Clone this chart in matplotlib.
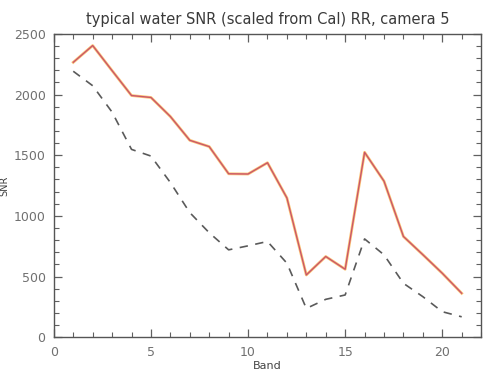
import numpy as np
import matplotlib.pyplot as plt
from matplotlib.ticker import MultipleLocator

# SNR per band, camera 5 (reduced resolution)
bands = np.arange(1, 22)
snr_scaled = [2266, 2404, 2197, 1992, 1976, 1819, 1623, 1571, 1347, 1345,
              1438, 1148, 513, 665, 560, 1524, 1286, 830, 680, 527, 362]
snr_ref = [2192, 2073, 1855, 1548, 1493, 1275, 1027, 861, 720, 753,
           789, 610, 237, 312, 348, 810, 679, 444, 334, 210, 168]

fig = plt.figure(figsize=(4.85, 3.81), dpi=100)
ax = fig.add_axes([0.111, 0.115, 0.881, 0.796])

# solid curve drawn in layers, like several overlapping traces
ax.plot(bands, snr_scaled, color='#f7b040', lw=2.0, alpha=0.75)
ax.plot(bands, snr_scaled, color='#dc3c78', lw=1.0, alpha=0.75)
ax.plot(bands, snr_scaled, color='#6a4a4a', lw=0.5, alpha=0.35)
ax.plot(bands, snr_ref, color='#5a5a5a', lw=1.2, dashes=(5, 4.5))

ax.set_xlim(0, 22)
ax.set_ylim(0, 2500)
ax.xaxis.set_major_locator(MultipleLocator(5))
ax.xaxis.set_minor_locator(MultipleLocator(1))
ax.yaxis.set_major_locator(MultipleLocator(500))
ax.yaxis.set_minor_locator(MultipleLocator(100))
ax.tick_params(which='both', direction='in', top=True, right=True,
               colors='#606060', labelcolor='#707070', labelsize=9, pad=6)
ax.tick_params(which='major', length=6, width=0.9)
ax.tick_params(which='minor', length=3.5, width=0.8)
for s in ax.spines.values():
    s.set_color('#555555')
    s.set_linewidth(1.0)

ax.set_title('typical water SNR (scaled from Cal) RR, camera 5',
             fontsize=10.5, color='#3a3a3a', pad=7)
ax.set_xlabel('Band', fontsize=8, color='#444444', labelpad=2)
ax.set_ylabel('SNR', fontsize=7, color='#444444', labelpad=3)

fig.savefig('out.png', dpi=100)
